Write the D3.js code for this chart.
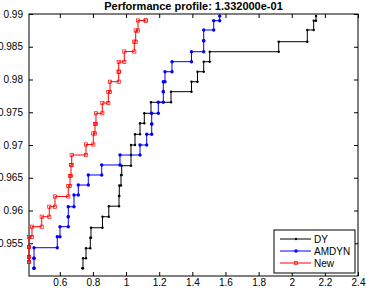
<!DOCTYPE html>
<html>
<head>
<meta charset="utf-8">
<script src="https://cdn.jsdelivr.net/npm/d3@7"></script>
<style>
body { margin: 0; background: #fff; }
text { font-family: "Liberation Sans", Arial, sans-serif; }
</style>
</head>
<body>
<svg></svg>
<script>
const width = 366;
const height = 291;
const margin = {top: 14, right: 8, bottom: 15, left: 29};
const innerWidth = width - margin.left - margin.right;
const innerHeight = height - margin.top - margin.bottom;

const title = 'Performance profile: 1.332000e-01';
const seriesNames = ['DY', 'AMDYN', 'New'];
const xTicks = [0.6, 0.8, 1, 1.2, 1.4, 1.6, 1.8, 2, 2.2, 2.4];
const yTicks = [0.955, 0.96, 0.965, 0.97, 0.975, 0.98, 0.985, 0.99];

// stair breakpoints (tau, rho)
const dyX = [0.7357, 0.7400, 0.7581, 0.7840, 0.7883, 0.8577, 0.8957, 0.9573, 0.9591, 0.9694, 0.9736,
  1.0297, 1.0297, 1.0539, 1.0841, 1.1100, 1.1504, 1.2712, 1.3949, 1.4311, 1.4686, 1.5048,
  1.9213, 2.0940, 2.1326, 2.1465];
const dyY = [0.95118, 0.95270, 0.95423, 0.95585, 0.95737, 0.95905, 0.96066, 0.96221, 0.96382, 0.96542, 0.96684,
  0.96847, 0.97000, 0.97163, 0.97331, 0.97484, 0.97652, 0.97814, 0.97966, 0.98119, 0.98272, 0.98424,
  0.98577, 0.98756, 0.98898, 0.98970];

const amdynX = [0.4442, 0.4442, 0.4442, 0.5848, 0.6011, 0.6512, 0.6512, 0.6856, 0.7116, 0.7720, 0.8529,
  0.9633, 1.0841, 1.1245, 1.1547, 1.1547, 1.1945, 1.2247, 1.2247, 1.2350, 1.2772, 1.3949,
  1.4686, 1.4686, 1.5289, 1.5652];
const amdynY = [0.95118, 0.95270, 0.95432, 0.95600, 0.95753, 0.95905, 0.96058, 0.96237, 0.96389, 0.96542, 0.96695,
  0.96847, 0.97000, 0.97163, 0.97321, 0.97484, 0.97652, 0.97814, 0.97966, 0.98119, 0.98272, 0.98424,
  0.98592, 0.98756, 0.98898, 0.98970];

const newX = [0.414, 0.414, 0.414, 0.414, 0.4321, 0.4907, 0.5365, 0.5709, 0.6512, 0.6615, 0.6675, 0.6718,
  0.7581, 0.8021, 0.8124, 0.8184, 0.8565, 0.8927, 0.9030, 0.9555, 0.9555, 0.9893, 1.0496, 1.0581,
  1.0720, 1.1185];
const newY = [0.95214, 0.95290, 0.95443, 0.95595, 0.95753, 0.95905, 0.96058, 0.96214, 0.96374, 0.96527, 0.96695, 0.96847,
  0.97008, 0.97176, 0.97321, 0.97484, 0.97641, 0.97809, 0.97966, 0.98119, 0.98267, 0.98427, 0.98577, 0.98748,
  0.98901, 0.98901];

const colors = ['#000000', '#0000ff', '#ff0000'];
const series = [
  {name: seriesNames[0], xs: dyX, ys: dyY, color: colors[0], marker: 'dot'},
  {name: seriesNames[1], xs: amdynX, ys: amdynY, color: colors[1], marker: 'bigdot'},
  {name: seriesNames[2], xs: newX, ys: newY, color: colors[2], marker: 'square'}
];

const svg = d3.select('svg')
  .attr('width', width)
  .attr('height', height);

svg.append('rect').attr('width', width).attr('height', height).attr('fill', '#fff');

const g = svg.append('g')
  .attr('transform', `translate(${margin.left}, ${margin.top})`);

const x = d3.scaleLinear().domain([0.414, 2.4]).range([0, innerWidth]);
const y = d3.scaleLinear().domain([0.95, 0.99]).range([innerHeight, 0]);

const fmt = v => String(+v.toFixed(3));

// axes, ticks pointing inwards like MATLAB
const axes = [
  {ax: d3.axisBottom(x).tickValues(xTicks).tickFormat(fmt).tickPadding(3), t: `translate(0,${innerHeight})`},
  {ax: d3.axisTop(x).tickValues(xTicks).tickFormat(''), t: 'translate(0,0)'},
  {ax: d3.axisLeft(y).tickValues(yTicks).tickFormat(fmt).tickPadding(6), t: 'translate(0,0)'},
  {ax: d3.axisRight(y).tickValues(yTicks).tickFormat(''), t: `translate(${innerWidth},0)`}
];
axes.forEach(a => {
  const sel = g.append('g').attr('transform', a.t)
    .call(a.ax.tickSizeInner(-4).tickSizeOuter(0));
  sel.select('.domain').remove();
  sel.selectAll('line').attr('stroke', '#000');
  sel.selectAll('text').attr('font-size', 10).attr('fill', '#000');
});

g.append('rect')
  .attr('width', innerWidth)
  .attr('height', innerHeight)
  .attr('fill', 'none')
  .attr('stroke', '#000')
  .attr('stroke-width', 1);

const line = d3.line()
  .x(d => x(d[0]))
  .y(d => y(d[1]))
  .curve(d3.curveStepAfter);

function drawMarker(sel, s, px, py) {
  if (s.marker === 'square') {
    sel.append('rect')
      .attr('x', px - 1.6).attr('y', py - 1.6)
      .attr('width', 3.2).attr('height', 3.2)
      .attr('fill', 'none').attr('stroke', s.color).attr('stroke-width', 0.7);
  } else {
    sel.append('circle')
      .attr('cx', px).attr('cy', py)
      .attr('r', s.marker === 'bigdot' ? 1.7 : 1.2)
      .attr('fill', s.color);
  }
}

series.forEach(s => {
  const pts = s.xs.map((v, i) => [v, s.ys[i]]);
  g.append('path')
    .datum(pts)
    .attr('d', line)
    .attr('fill', 'none')
    .attr('stroke', s.color)
    .attr('stroke-width', 1);

  // markers at both corners of every stair step
  const corners = [];
  pts.forEach((p, i) => {
    if (i > 0) corners.push([p[0], pts[i - 1][1]]);
    corners.push(p);
  });
  const mg = g.append('g');
  corners.forEach(c => drawMarker(mg, s, x(c[0]), y(c[1])));
});

svg.append('text')
  .attr('x', margin.left + innerWidth / 2)
  .attr('y', 10)
  .attr('text-anchor', 'middle')
  .attr('font-size', 11)
  .attr('font-weight', 'bold')
  .text(title);

// legend
const lg = g.append('g').attr('transform', `translate(${innerWidth - 84}, ${innerHeight - 46})`);
lg.append('rect')
  .attr('width', 81).attr('height', 43)
  .attr('fill', '#fff').attr('stroke', '#000').attr('stroke-width', 1);
series.forEach((s, i) => {
  const ly = 9 + i * 12;
  lg.append('line')
    .attr('x1', 6).attr('x2', 37).attr('y1', ly).attr('y2', ly)
    .attr('stroke', s.color).attr('stroke-width', 1);
  drawMarker(lg, s, 22, ly);
  lg.append('text')
    .attr('x', 40).attr('y', ly + 3.5)
    .attr('font-size', 10)
    .attr('fill', '#000')
    .text(s.name);
});
</script>
</body>
</html>
